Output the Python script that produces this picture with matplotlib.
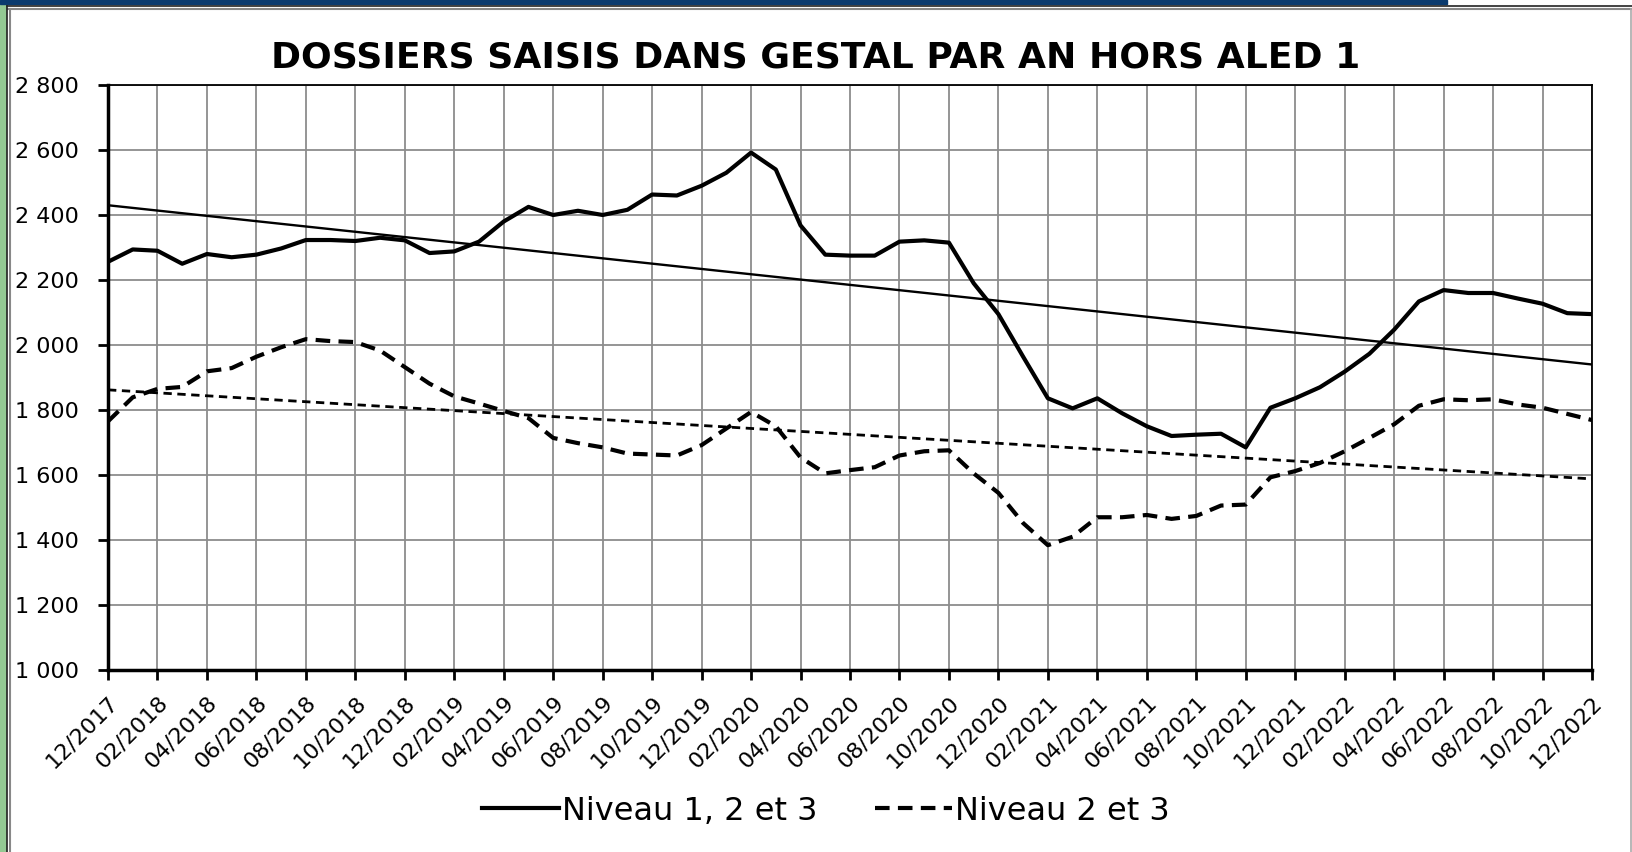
import numpy as np
import matplotlib.pyplot as plt
from matplotlib.patches import Rectangle
from matplotlib.ticker import FuncFormatter

# Dossiers saisis dans GESTAL par an, hors ALED 1 (moyenne glissante mensuelle)

months = ['12/2017', '01/2018', '02/2018', '03/2018', '04/2018', '05/2018', '06/2018',
          '07/2018', '08/2018', '09/2018', '10/2018', '11/2018', '12/2018',
          '01/2019', '02/2019', '03/2019', '04/2019', '05/2019', '06/2019',
          '07/2019', '08/2019', '09/2019', '10/2019', '11/2019', '12/2019',
          '01/2020', '02/2020', '03/2020', '04/2020', '05/2020', '06/2020',
          '07/2020', '08/2020', '09/2020', '10/2020', '11/2020', '12/2020',
          '01/2021', '02/2021', '03/2021', '04/2021', '05/2021', '06/2021',
          '07/2021', '08/2021', '09/2021', '10/2021', '11/2021', '12/2021',
          '01/2022', '02/2022', '03/2022', '04/2022', '05/2022', '06/2022',
          '07/2022', '08/2022', '09/2022', '10/2022', '11/2022', '12/2022']

niv123 = [2256, 2294, 2290, 2250, 2280, 2270, 2278, 2297, 2323, 2323, 2320, 2330, 2322,
          2283, 2288, 2318, 2380, 2425, 2400, 2413, 2400, 2416, 2463, 2460, 2490,
          2530, 2592, 2540, 2368, 2278, 2275, 2275, 2318, 2322, 2315, 2190, 2095,
          1964, 1836, 1805, 1836, 1790, 1750, 1720, 1724, 1727, 1685, 1807, 1836,
          1870, 1918, 1973, 2047, 2134, 2169, 2160, 2160, 2143, 2127, 2098, 2095]

niv23 = [1765, 1839, 1865, 1871, 1919, 1929, 1964, 1993, 2018, 2012, 2009, 1983, 1932,
         1881, 1842, 1820, 1797, 1775, 1714, 1698, 1685, 1666, 1663, 1660, 1692,
         1743, 1794, 1750, 1654, 1605, 1615, 1624, 1660, 1673, 1676, 1605, 1545,
         1452, 1384, 1410, 1470, 1470, 1477, 1465, 1474, 1506, 1509, 1593, 1612,
         1637, 1673, 1714, 1756, 1813, 1833, 1830, 1833, 1817, 1807, 1788, 1769]

# linear trend lines (start / end values)
trend_x = [0, 60]
trend123 = [2430, 1940]
trend23 = [1862, 1588]

fsz = (16.32, 8.52)
fig = plt.figure(figsize=fsz, dpi=100)

# frame decorations around the chart
fig.patches.append(Rectangle((0, 0), 6/1632, 1, transform=fig.transFigure,
                             color='#93c993', zorder=0))
fig.patches.append(Rectangle((0, 1-4/852), 1447/1632, 4/852, transform=fig.transFigure,
                             color='#0a3a6e', zorder=1))
fig.add_artist(plt.Line2D([7/1632, 1], [1-6/852, 1-6/852], color='#222222', lw=1.2))
fig.add_artist(plt.Line2D([7/1632, 1], [1-9/852, 1-9/852], color='#888888', lw=1.5))
fig.add_artist(plt.Line2D([7/1632, 7/1632], [0, 1-6/852], color='#222222', lw=1.2))
fig.add_artist(plt.Line2D([10/1632, 10/1632], [0, 1-9/852], color='#888888', lw=1.5))
fig.add_artist(plt.Line2D([1631/1632, 1631/1632], [0, 1-9/852], color='#aaaaaa', lw=1.2))

ax = fig.add_axes([108/1632, 1-670/852, (1592-108)/1632, (670-85)/852])

xx = np.arange(len(months))
ax.plot(xx, niv123, '-', color='black', lw=3.0, label='Niveau 1, 2 et 3', zorder=4)
ax.plot(xx, niv23, '--', color='black', lw=3.0, dashes=(3.5, 2), label='Niveau 2 et 3', zorder=4)
ax.plot(trend_x, trend123, '-', color='black', lw=1.7, zorder=3)
ax.plot(trend_x, trend23, '--', color='black', lw=2.0, dashes=(3, 2), zorder=3)

ax.set_xlim(0, 60)
ax.set_ylim(1000, 2800)
ax.set_yticks(np.arange(1000, 2801, 200))
ax.yaxis.set_major_formatter(FuncFormatter(lambda v, p: '{:,.0f}'.format(v).replace(',', ' ')))
ax.set_xticks(xx[::2])
ax.set_xticklabels(months[::2], rotation=45, ha='right', rotation_mode='anchor')

ax.grid(True, color='#8c8c8c', lw=1.3)
ax.set_axisbelow(True)
ax.tick_params(axis='both', direction='out', length=7, width=2, labelsize=16)
ax.tick_params(axis='x', pad=9)
ax.tick_params(axis='y', pad=14)
for s in ['left', 'bottom']:
    ax.spines[s].set_linewidth(2.5)
for s in ['top', 'right']:
    ax.spines[s].set_linewidth(1.3)

fig.text(0.5, 1-57/852, 'DOSSIERS SAISIS DANS GESTAL PAR AN HORS ALED 1',
         ha='center', va='center', fontsize=26, fontweight='bold')

fig.legend(loc='center', bbox_to_anchor=(0.506, 1-811/852), ncol=2, frameon=False,
           fontsize=23, handlelength=2.4, handletextpad=0.1, columnspacing=1.8)

plt.savefig('out.png', dpi=100)
